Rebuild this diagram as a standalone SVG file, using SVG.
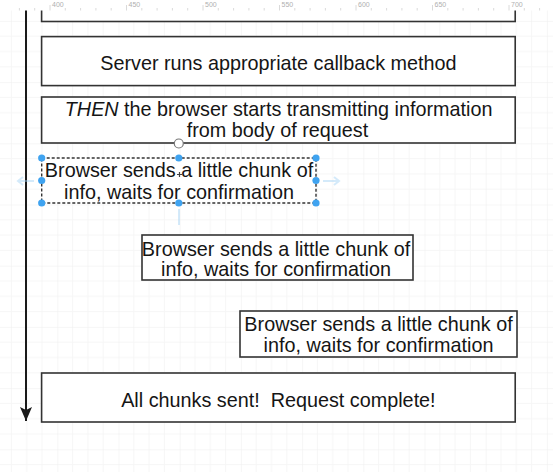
<svg xmlns="http://www.w3.org/2000/svg" width="553" height="472" viewBox="0 0 553 472">
  <defs>
    <pattern id="grid" patternUnits="userSpaceOnUse" x="57.3" y="20.9" width="61.2" height="61.2">
      <path d="M15.3 0V61.2M30.6 0V61.2M45.9 0V61.2M0 15.3H61.2M0 30.6H61.2M0 45.9H61.2" stroke="#f6f6f6" stroke-width="1" fill="none"/>
      <path d="M0 0V61.2M0 0H61.2" stroke="#eeeeee" stroke-width="1" fill="none"/>
    </pattern>
    <marker id="arrow" viewBox="0 0 14 12" refX="14" refY="6" markerWidth="14" markerHeight="12" markerUnits="userSpaceOnUse" orient="auto">
      <path d="M0 0L14 6L0 12L3 6Z" fill="#1a1a1a"/>
    </marker>
  </defs>
  <style>
    .box{fill:#ffffff;stroke:#333333;stroke-width:1.6}
    .sel{fill:#ffffff;stroke:#333333;stroke-width:1.4;stroke-dasharray:3 2}
    .t{font-family:"Liberation Sans",Arial,Helvetica,sans-serif;font-size:19.8px;fill:#151515;text-anchor:middle}
    .handle{fill:#3fa3f0;stroke:none}
    .hover{fill:none;stroke:#9fd0f5;stroke-width:2;opacity:0.45}
    .ruler{font-family:"Liberation Sans",Arial,sans-serif;font-size:7px;fill:#b0b0b0}
    .tick{stroke:#d0d0d0;stroke-width:0.8}
  </style>

  <rect x="0" y="0" width="553" height="472" fill="#ffffff"/>
  <rect x="0" y="0" width="553" height="472" fill="url(#grid)"/>

  <g id="connectors">
    <line x1="26" y1="10" x2="26" y2="421" stroke="#1a1a1a" stroke-width="2" marker-end="url(#arrow)"/>
  </g>

  <g id="node-top">
    <rect class="box" x="41.6" y="-10" width="473.6" height="31.5"/>
  </g>

  <g id="node-server">
    <rect class="box" x="41.6" y="36.6" width="473.6" height="49"/>
    <text class="t" x="278.4" y="69.5">Server runs appropriate callback method</text>
  </g>

  <g id="node-then">
    <rect class="box" x="41.6" y="97" width="473.6" height="46"/>
    <text class="t" x="278.6" y="116"><tspan font-style="italic">THEN</tspan> the browser starts transmitting information</text>
    <text class="t" x="277.5" y="136.7">from body of request</text>
  </g>

  <g id="node-chunk1">
    <rect class="sel" x="41.7" y="158" width="274.3" height="45"/>
    <text class="t" x="179" y="177.3">Browser sends a little chunk of</text>
    <text class="t" x="179" y="198.5">info, waits for confirmation</text>
    <g id="selection-handles">
      <circle class="handle" cx="41.7" cy="158" r="3.6"/>
      <circle class="handle" cx="178.8" cy="158" r="3.6"/>
      <circle class="handle" cx="316" cy="158" r="3.6"/>
      <circle class="handle" cx="41.7" cy="180.5" r="3.6"/>
      <circle class="handle" cx="316" cy="180.5" r="3.6"/>
      <circle class="handle" cx="41.7" cy="203" r="3.6"/>
      <circle class="handle" cx="178.8" cy="203" r="3.6"/>
      <circle class="handle" cx="316" cy="203" r="3.6"/>
      <path class="hover" d="M34 181H18M23 177L18 181L23 185"/>
      <path class="hover" d="M323 181H339M334 177L339 181L334 185"/>
      <path class="hover" d="M179 209V225"/>
      <circle cx="178.8" cy="143.5" r="4.5" fill="#ffffff" stroke="#777777" stroke-width="1.2"/>
      <path d="M177 174.5H182M179.5 172V177" stroke="#444444" stroke-width="1.2"/>
    </g>
  </g>

  <g id="node-chunk2">
    <rect class="box" x="142" y="235" width="271" height="45"/>
    <text class="t" x="276" y="255.5">Browser sends a little chunk of</text>
    <text class="t" x="276" y="276">info, waits for confirmation</text>
  </g>

  <g id="node-chunk3">
    <rect class="box" x="240" y="311" width="277" height="46"/>
    <text class="t" x="378.5" y="331">Browser sends a little chunk of</text>
    <text class="t" x="378.5" y="351.5">info, waits for confirmation</text>
  </g>

  <g id="node-complete">
    <rect class="box" x="41.6" y="373" width="473.6" height="49"/>
    <text class="t" x="278.4" y="406.5" xml:space="preserve">All chunks sent!  Request complete!</text>
  </g>

  <g id="ruler">
    <rect x="0" y="0" width="553" height="10.5" fill="#ffffff"/>
    <path class="tick" d="M50 5V10.5M126.5 5V10.5M203 5V10.5M279.5 5V10.5M356 5V10.5M432.5 5V10.5M509 5V10.5M65.3 8V10.5M80.6 8V10.5M95.9 8V10.5M111.2 8V10.5M141.8 8V10.5M157.1 8V10.5M172.4 8V10.5M187.7 8V10.5M218.3 8V10.5M233.6 8V10.5M248.9 8V10.5M264.2 8V10.5M294.8 8V10.5M310.1 8V10.5M325.4 8V10.5M340.7 8V10.5M371.3 8V10.5M386.6 8V10.5M401.9 8V10.5M417.2 8V10.5M447.8 8V10.5M463.1 8V10.5M478.4 8V10.5M493.7 8V10.5M524.3 8V10.5M539.6 8V10.5M34.7 8V10.5M19.4 8V10.5"/>
    <text class="ruler" x="52" y="7">400</text>
    <text class="ruler" x="128.5" y="7">450</text>
    <text class="ruler" x="205" y="7">500</text>
    <text class="ruler" x="281.5" y="7">550</text>
    <text class="ruler" x="358" y="7">600</text>
    <text class="ruler" x="434.5" y="7">650</text>
    <text class="ruler" x="511" y="7">700</text>
  </g>
</svg>
